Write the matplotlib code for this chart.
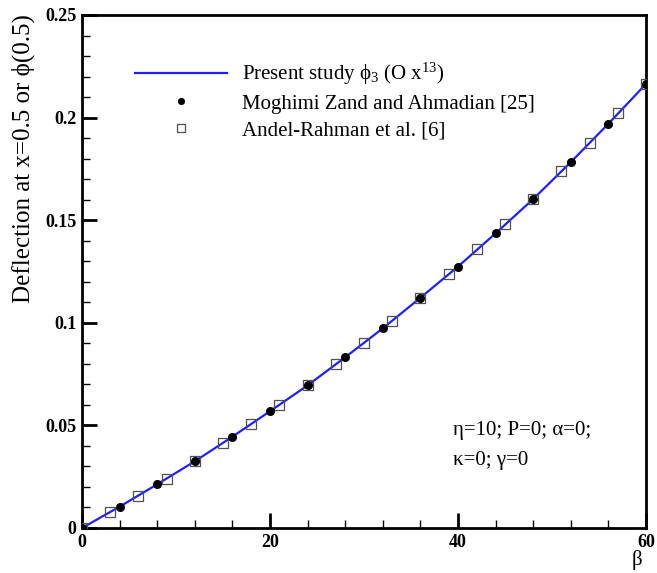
import matplotlib
matplotlib.use("Agg")
import matplotlib.pyplot as plt
from matplotlib.ticker import MultipleLocator, FuncFormatter

plt.rcParams['font.family'] = ['Liberation Serif', 'DejaVu Serif']
plt.rcParams['mathtext.fontset'] = 'custom'
plt.rcParams['mathtext.rm'] = 'Liberation Serif'
plt.rcParams['mathtext.it'] = 'Liberation Serif:italic'
plt.rcParams['mathtext.bf'] = 'Liberation Serif:bold'

# Present study (line)
line_beta = [0, 4, 8, 12, 16, 20, 24, 28, 32, 36, 40, 44, 48, 52, 56, 60]
line_defl = [0.0, 0.0104, 0.0213, 0.0325, 0.0445, 0.0569, 0.0695, 0.0832,
             0.0973, 0.1122, 0.1274, 0.1436, 0.1603, 0.1783, 0.1970, 0.2164]

# Moghimi Zand and Ahmadian [25]
mz_beta = [0, 4, 8, 12, 16, 20, 24, 28, 32, 36, 40, 44, 48, 52, 56, 60]
mz_defl = [0.0, 0.0104, 0.0213, 0.0325, 0.0445, 0.0569, 0.0695, 0.0832,
           0.0973, 0.1122, 0.1273, 0.1436, 0.1603, 0.1784, 0.1970, 0.2164]

# Andel-Rahman et al. [6]
ar_beta = [0, 3, 6, 9, 12, 15, 18, 21, 24, 27, 30, 33, 36, 39, 42, 45, 48, 51, 54, 57, 60]
ar_defl = [0.0, 0.0078, 0.0157, 0.0240, 0.0325, 0.0416, 0.0507, 0.0599, 0.0695,
           0.0799, 0.0903, 0.1010, 0.1122, 0.1236, 0.1358, 0.1480, 0.1603,
           0.1740, 0.1878, 0.2021, 0.2164]

fig = plt.figure(figsize=(6.57, 5.73), dpi=100)
ax = fig.add_axes([82/657, 45/573, (646-82)/657, (528-15)/573])

ax.plot(line_beta, line_defl, color='#1f1fff', lw=1.6, zorder=3,
        label=r'Present study $\mathrm{\phi}_3$ (O $\mathrm{x}^{13}$)')
ax.plot(ar_beta, ar_defl, ls='none', marker='s', ms=7, mfc='none', mec='#505050',
        mew=0.9, zorder=4, label='Andel-Rahman et al. [6]')
ax.plot(mz_beta, mz_defl, ls='none', marker='o', ms=5.5, color='black', zorder=5,
        label='Moghimi Zand and Ahmadian [25]')

ax.set_xlim(0, 60)
ax.set_ylim(0, 0.25)
ax.xaxis.set_major_locator(MultipleLocator(20))
ax.xaxis.set_minor_locator(MultipleLocator(4))
ax.yaxis.set_major_locator(MultipleLocator(0.05))
ax.yaxis.set_minor_locator(MultipleLocator(0.01))
ax.yaxis.set_major_formatter(FuncFormatter(lambda v, p: f'{v:g}'))
ax.xaxis.set_major_formatter(FuncFormatter(lambda v, p: f'{v:g}'))

ax.tick_params(which='both', direction='in', top=False, right=False)
ax.tick_params(which='major', length=11, width=2, labelsize=13, pad=4)
ax.tick_params(which='minor', length=6, width=1)
for lab in ax.get_xticklabels() + ax.get_yticklabels():
    lab.set_fontweight('bold')
for s in ax.spines.values():
    s.set_linewidth(2)

fig.text(23/657, 1 - 159/573, 'Deflection at x=0.5 or ϕ(0.5)', fontsize=18,
         rotation=90, ha='center', va='center')
fig.text(637/657, 1 - 560/573, 'β', fontsize=15, ha='center', va='center')

h, l = ax.get_legend_handles_labels()
order = [0, 2, 1]
leg = ax.legend([h[i] for i in order], [l[i] for i in order],
                loc='upper left', bbox_to_anchor=((135-82)/564, 1 - (61-15)/513),
                frameon=False, fontsize=15, handlelength=4.4, handletextpad=0.75,
                labelspacing=0.33, borderpad=0, borderaxespad=0, numpoints=1,
                markerscale=0.75)

ax.text((453-82)/564*60, (528-430)/2052, 'η=10; P=0; α=0;', fontsize=15,
        ha='left', va='center')
ax.text((453-82)/564*60, (528-460)/2052, 'κ=0; γ=0', fontsize=15,
        ha='left', va='center')

fig.savefig('out.png', dpi=100)
